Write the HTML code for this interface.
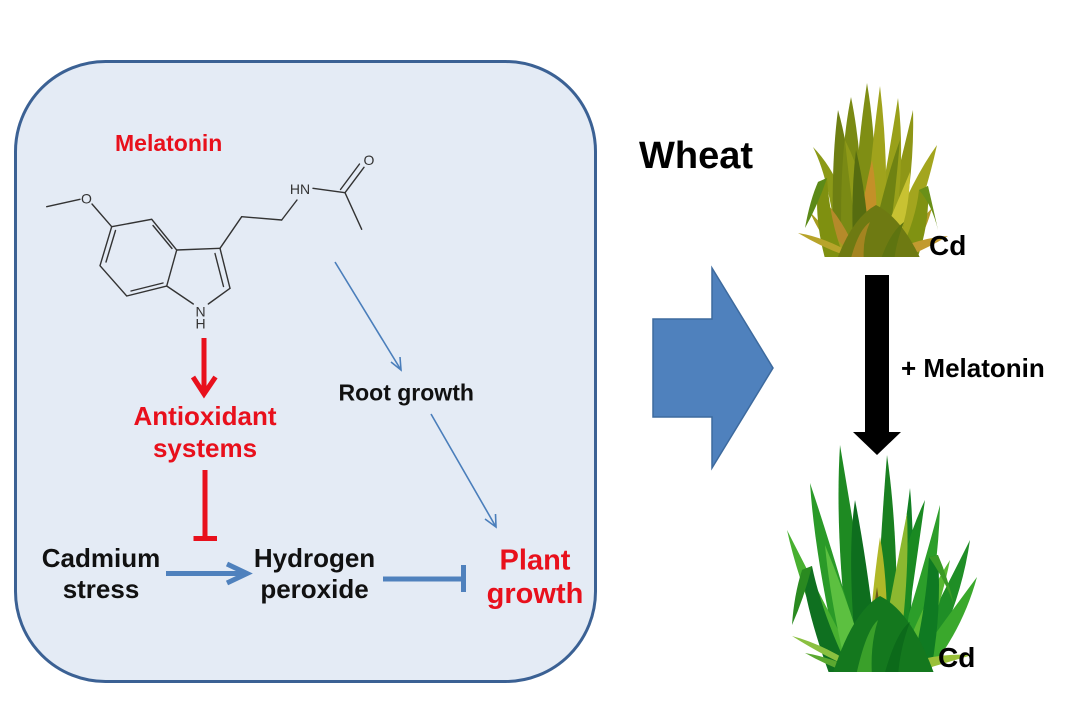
<!DOCTYPE html>
<html><head><meta charset="utf-8"><style>
html,body{margin:0;padding:0;background:#fff;}
svg{display:block;}
text{font-family:"Liberation Sans",Arial,sans-serif;font-weight:bold;}
</style></head><body>
<svg width="1079" height="704" viewBox="0 0 1079 704" xmlns="http://www.w3.org/2000/svg">
<defs>
<clipPath id="c1"><rect x="770" y="60" width="220" height="197"/></clipPath>
<clipPath id="c2"><rect x="770" y="430" width="230" height="242"/></clipPath>
</defs>
<rect x="15.5" y="61.5" width="580" height="620" rx="90" ry="90" fill="#e4ebf5" stroke="#3b6194" stroke-width="3"/>

<!-- molecule -->
<g stroke="#333" stroke-width="1.4" fill="none" stroke-linecap="round">
<line x1="46.7" y1="206.7" x2="80" y2="199.3"/>
<line x1="92" y1="204" x2="111.7" y2="226.7"/>
<polyline points="111.7,226.7 151.7,219.3 176.7,250 166.7,286 126.7,296 100,265.7 111.7,226.7"/>
<line x1="153" y1="225.5" x2="172" y2="248.5"/>
<line x1="131" y1="291" x2="163" y2="283"/>
<line x1="106" y1="262" x2="115.5" y2="230.5"/>
<line x1="176.7" y1="250" x2="220" y2="248.3"/>
<line x1="220" y1="248.3" x2="230" y2="288.3"/>
<line x1="215" y1="253.5" x2="223.5" y2="286.5"/>
<line x1="230" y1="288.3" x2="208.3" y2="304"/>
<line x1="166.7" y1="286" x2="193.3" y2="304"/>
<line x1="220" y1="248.3" x2="241.7" y2="216.7"/>
<line x1="241.7" y1="216.7" x2="281.7" y2="220"/>
<line x1="281.7" y1="220" x2="297" y2="200"/>
<line x1="313" y1="188.3" x2="345" y2="192.7"/>
<line x1="345" y1="192.7" x2="364" y2="167.3"/>
<line x1="340.5" y1="189.5" x2="359.5" y2="164"/>
<line x1="345" y1="192.7" x2="361.7" y2="229.3"/>
</g>
<g fill="#333" font-size="14">
<text x="86.5" y="203.5" text-anchor="middle" style="font-weight:normal">O</text>
<text x="300" y="194" text-anchor="middle" style="font-weight:normal">HN</text>
<text x="369" y="165" text-anchor="middle" style="font-weight:normal">O</text>
<text x="200.5" y="316.5" text-anchor="middle" style="font-weight:normal">N</text>
<text x="200.5" y="328.5" text-anchor="middle" style="font-weight:normal">H</text>
</g>

<text x="115" y="151" font-size="23" fill="#e8101c">Melatonin</text>

<!-- thin blue arrows -->
<g stroke="#4a7ebb" stroke-width="1.6" fill="none">
<line x1="335" y1="262" x2="401" y2="370"/>
<polyline points="391,362 401,370 400,357"/>
<line x1="431" y1="414" x2="496" y2="527"/>
<polyline points="485,519 496,527 495.5,514"/>
</g>
<text x="338.5" y="400.5" font-size="23" fill="#111">Root growth</text>

<!-- red arrow -->
<g stroke="#e8101c" stroke-width="5" fill="none">
<line x1="204" y1="338" x2="204" y2="393"/>
<polyline points="193,377 204,394 215.5,377"/>
<line x1="205" y1="470" x2="205" y2="538"/>
<line x1="193.5" y1="538.5" x2="217" y2="538.5"/>
</g>
<text x="205" y="425" font-size="26" fill="#e8101c" text-anchor="middle">Antioxidant</text>
<text x="205" y="457" font-size="26" fill="#e8101c" text-anchor="middle">systems</text>

<text x="101" y="567" font-size="26" fill="#111" text-anchor="middle">Cadmium</text>
<text x="101" y="598" font-size="26" fill="#111" text-anchor="middle">stress</text>
<text x="314.5" y="567" font-size="26" fill="#111" text-anchor="middle">Hydrogen</text>
<text x="314.5" y="598" font-size="26" fill="#111" text-anchor="middle">peroxide</text>
<text x="535" y="569.5" font-size="29" fill="#e8101c" text-anchor="middle">Plant</text>
<text x="535" y="603" font-size="29" fill="#e8101c" text-anchor="middle">growth</text>

<g stroke="#4f81bd" stroke-width="5" fill="none">
<line x1="166" y1="573.5" x2="245" y2="573.5"/>
<polyline points="227,564 247,573.5 227,583"/>
<line x1="383" y1="579" x2="462" y2="579"/>
<line x1="463.5" y1="565" x2="463.5" y2="592"/>
</g>

<!-- big blue arrow -->
<polygon points="653,319 712,319 712,268 773,368 712,468 712,417 653,417" fill="#4f81bd" stroke="#3d6a9e" stroke-width="1.5"/>

<text x="639" y="168" font-size="38" fill="#000">Wheat</text>

<!-- black arrow -->
<polygon points="865,275 889,275 889,432 901,432 877,455 853,432 865,432" fill="#000"/>
<text x="901" y="377" font-size="26" fill="#000">+ Melatonin</text>

<!-- top plant -->
<g clip-path="url(#c1)">
<path d="M838 262Q832 185 813 147Q850 185 858 262Z" fill="#8c9a18"/>
<path d="M880 262Q908 185 937 145Q925 200 900 262Z" fill="#a3a51e"/>
<path d="M834 262Q830 170 838 110Q855 170 856 262Z" fill="#6e7f12"/>
<path d="M876 262Q900 165 913 110Q915 180 896 262Z" fill="#8e9616"/>
<path d="M842 262Q838 160 851 97Q864 160 864 262Z" fill="#7a8a14"/>
<path d="M870 262Q888 160 898 98Q907 170 890 262Z" fill="#99a01a"/>
<path d="M852 262Q855 160 867 83Q880 160 874 262Z" fill="#7f8e14"/>
<path d="M862 262Q870 160 880 86Q890 170 884 262Z" fill="#a0a31c"/>
<path d="M860 262Q850 190 845 140Q870 190 878 262Z" fill="#8f9a18"/>
<path d="M868 262Q882 190 900 140Q895 200 886 262Z" fill="#6f8212"/>
<path d="M855 262Q862 200 872 160Q880 205 874 262Z" fill="#c49028"/>
<path d="M838 262Q830 225 820 196Q846 222 860 262Z" fill="#b58a2a"/>
<path d="M854 262Q850 200 856 150Q868 200 870 262Z" fill="#566c10"/>
<path d="M872 262Q894 210 910 172Q910 218 890 262Z" fill="#c8c232"/>
<path d="M844 262Q822 240 810 212Q836 240 862 262Z" fill="#a69c20"/>
<path d="M884 262Q910 232 932 208Q922 245 902 262Z" fill="#b49a28"/>
<path d="M826 262Q814 220 818 182L827 178Q830 225 846 262Z" fill="#7f9010"/>
<path d="M818 182Q810 200 805 228Q818 205 827 178Z" fill="#5c8a18"/>
<path d="M896 262Q916 220 919 190L928 186Q930 225 916 262Z" fill="#809212"/>
<path d="M919 190Q932 205 938 230Q932 203 928 186Z" fill="#6a9018"/>
<path d="M866 262Q830 238 798 233Q830 252 860 260Z" fill="#b8a42a"/>
<path d="M878 258Q915 238 948 236Q918 254 886 264Z" fill="#c29a30"/>
<path d="M836 262Q852 218 876 205Q902 218 922 262Z" fill="#6e7a12"/>
<path d="M850 262Q858 230 870 222Q862 240 864 262Z" fill="#a48420"/>
<path d="M880 262Q890 232 904 222Q896 242 894 262Z" fill="#5e7410"/>
</g>
<text x="929" y="255" font-size="28" fill="#000">Cd</text>

<!-- bottom plant -->
<g clip-path="url(#c2)">
<path d="M852 676Q834 540 840 445Q856 540 878 676Z" fill="#1e8a22"/>
<path d="M874 676Q880 540 887 455Q900 545 896 676Z" fill="#198020"/>
<path d="M842 676Q815 560 810 483Q836 560 868 676Z" fill="#2a9a28"/>
<path d="M882 676Q900 570 910 488Q918 575 904 676Z" fill="#128024"/>
<path d="M890 676Q920 580 940 505Q938 590 912 676Z" fill="#2c9e2a"/>
<path d="M838 676Q800 590 787 530Q820 595 862 676Z" fill="#48b030"/>
<path d="M900 676Q940 600 970 540Q960 610 922 676Z" fill="#1f8e26"/>
<path d="M905 676Q945 620 977 577Q962 632 925 676Z" fill="#3aa82c"/>
<path d="M858 676Q846 560 855 500Q868 565 880 676Z" fill="#0e6e1e"/>
<path d="M880 676Q896 560 925 500Q916 565 900 676Z" fill="#1a8a22"/>
<path d="M848 676Q830 600 825 545Q850 605 870 676Z" fill="#5cc040"/>
<path d="M895 676Q924 600 950 560Q940 610 914 676Z" fill="#58b832"/>
<path d="M866 676Q872 590 880 537Q890 592 886 676Z" fill="#b0b828"/>
<path d="M876 676Q894 580 907 513Q910 585 896 676Z" fill="#8cb830"/>
<path d="M866 676Q870 630 877 587Q884 632 882 676Z" fill="#6a5a1a"/>
<path d="M830 676Q806 610 802 570L812 566Q822 615 852 676Z" fill="#0f7020"/>
<path d="M802 570Q794 595 792 625Q804 598 812 566Z" fill="#2a8a20"/>
<path d="M910 676Q926 610 929 557L938 555Q942 615 930 676Z" fill="#0f7a22"/>
<path d="M929 557Q945 580 954 605Q948 578 938 555Z" fill="#3a9a26"/>
<path d="M870 676Q830 646 792 636Q830 660 866 674Z" fill="#8ac040"/>
<path d="M870 676Q835 658 805 653Q835 670 866 678Z" fill="#5aa830"/>
<path d="M886 672Q928 652 972 655Q932 667 894 678Z" fill="#9ac038"/>
<path d="M832 676Q852 612 880 596Q912 612 935 676Z" fill="#14781e"/>
<path d="M856 676Q866 630 878 620Q870 645 872 676Z" fill="#3aa02a"/>
<path d="M884 676Q896 632 910 622Q900 648 898 676Z" fill="#0c6a1a"/>
</g>
<text x="938" y="667" font-size="28" fill="#000">Cd</text>
</svg>
</body></html>
